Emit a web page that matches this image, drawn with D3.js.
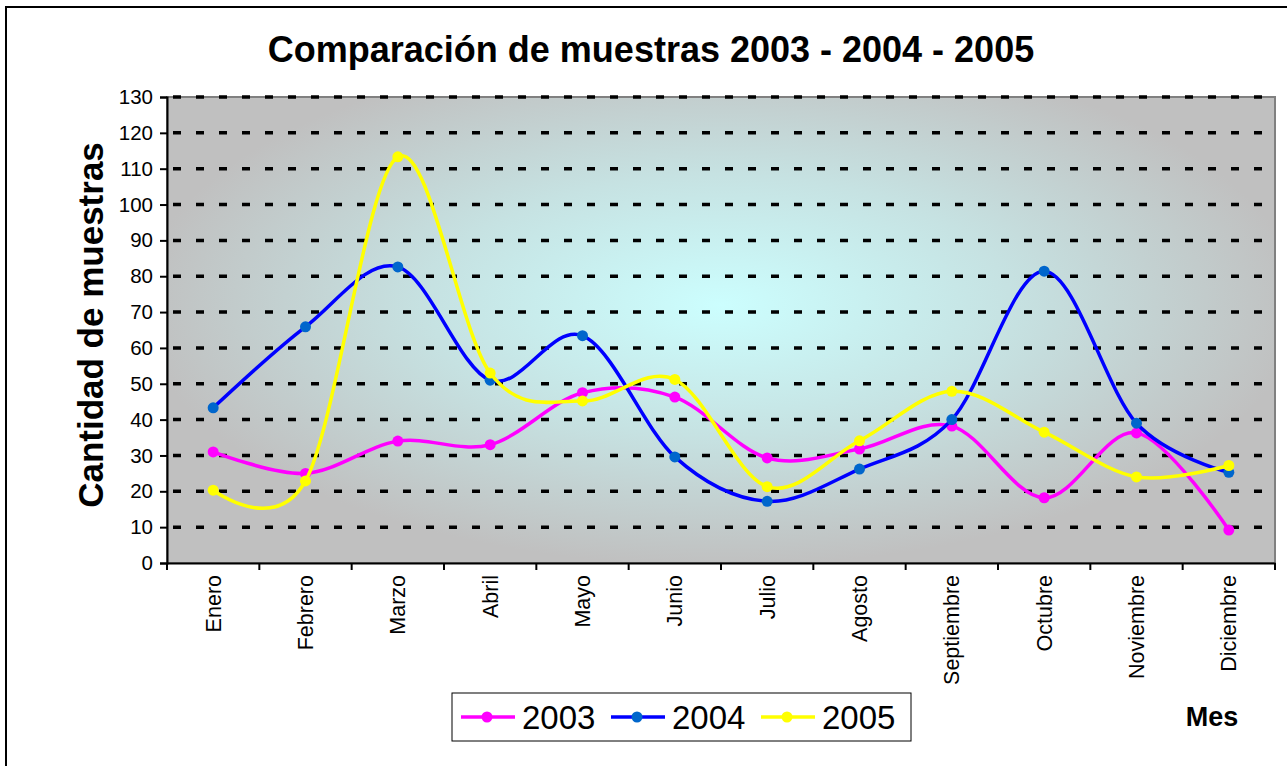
<!DOCTYPE html>
<html>
<head>
<meta charset="utf-8">
<script src="https://cdn.jsdelivr.net/npm/d3@7"></script>
<style>
  body { margin: 0; background: #fff; }
  text { font-family: Arial, "Liberation Sans", sans-serif; }
</style>
</head>
<body>
<div id="chart"></div>
<script>
const months = ["Enero", "Febrero", "Marzo", "Abril", "Mayo", "Junio", "Julio", "Agosto", "Septiembre", "Octubre", "Noviembre", "Diciembre"]
const v2003 = [31, 25, 34, 33, 47.5, 46.3, 29.3, 31.8, 38.2, 18.2, 36.3, 9.2]
const v2004 = [43.3, 65.9, 82.6, 51, 63.4, 29.6, 17.2, 26.2, 40, 81.4, 39, 25.3]
const v2005 = [20.3, 22.9, 113.3, 53, 45.2, 51.2, 21.3, 34.1, 47.9, 36.5, 24, 27.2]
const yTicks = d3.range(0, 131, 10)
const seriesNames = ["2003", "2004", "2005"]

const series = [
  { name: seriesNames[0], values: v2003, line: "#ff00ff", dot: "#ff00ff" },
  { name: seriesNames[1], values: v2004, line: "#0000ff", dot: "#0066cc" },
  { name: seriesNames[2], values: v2005, line: "#ffff00", dot: "#ffff00" }
]

const W = 1287, H = 766
const plot = { left: 167, top: 97, right: 1275, bottom: 563 }
const FONT = "Arial, 'Liberation Sans', sans-serif"

const svg = d3.select("#chart").append("svg")
  .attr("width", W).attr("height", H)

// outer chart border
svg.append("rect")
  .attr("x", 6).attr("y", 7).attr("width", W + 10).attr("height", H + 10)
  .attr("fill", "white").attr("stroke", "black").attr("stroke-width", 2)

const defs = svg.append("defs")
const grad = defs.append("radialGradient")
  .attr("id", "bg").attr("gradientUnits", "userSpaceOnUse")
  .attr("cx", 720).attr("cy", 305).attr("r", 580)
  .attr("gradientTransform", "translate(720,305) scale(1,0.45) translate(-720,-305)")
grad.append("stop").attr("offset", "0%").attr("stop-color", "#ccfefe")
grad.append("stop").attr("offset", "50%").attr("stop-color", "#c6e2e2")
grad.append("stop").attr("offset", "100%").attr("stop-color", "#c0c0c0")

const x = d3.scaleBand().domain(months).range([plot.left, plot.right])
const y = d3.scaleLinear().domain([0, 130]).range([plot.bottom, plot.top])

svg.append("rect")
  .attr("x", plot.left).attr("y", plot.top)
  .attr("width", plot.right - plot.left).attr("height", plot.bottom - plot.top)
  .attr("fill", "url(#bg)").attr("stroke", "#808080").attr("stroke-width", 2)

// dashed gridlines
svg.append("g").selectAll("line")
  .data(yTicks.filter(d => d > 0))
  .join("line")
  .attr("x1", plot.left + 2).attr("x2", plot.right)
  .attr("y1", d => y(d)).attr("y2", d => y(d))
  .attr("stroke", "black").attr("stroke-width", 3.5)
  .attr("stroke-dasharray", "8,15")
  .attr("stroke-dashoffset", -4)

// y axis
const yAxis = svg.append("g")
  .attr("transform", `translate(${plot.left},0)`)
  .call(d3.axisLeft(y).tickValues(yTicks).tickSize(7).tickPadding(7))
yAxis.select(".domain").attr("stroke", "black").attr("stroke-width", 2)
yAxis.selectAll(".tick line").attr("stroke", "black").attr("stroke-width", 2)
yAxis.selectAll("text").attr("font-size", 20.5).attr("fill", "black")
  .style("font-family", FONT)

// x axis
const xAxis = svg.append("g")
  .attr("transform", `translate(0,${plot.bottom})`)
  .call(d3.axisBottom(x).tickSize(0).tickPadding(0))
xAxis.select(".domain").attr("stroke", "black").attr("stroke-width", 2)
xAxis.selectAll(".tick text")
  .attr("transform", "rotate(-90)")
  .attr("text-anchor", "end")
  .attr("x", -12).attr("y", 0).attr("dy", "0.35em")
  .attr("font-size", 21.5).attr("fill", "black")
  .style("font-family", FONT)

// band separator ticks
svg.append("g").selectAll("line")
  .data(d3.range(months.length + 1))
  .join("line")
  .attr("x1", i => plot.left + i * x.step()).attr("x2", i => plot.left + i * x.step())
  .attr("y1", plot.bottom).attr("y2", plot.bottom + 7)
  .attr("stroke", "black").attr("stroke-width", 2)

const line = d3.line()
  .x((d, i) => x(months[i]) + x.bandwidth() / 2)
  .y(d => y(d))
  .curve(d3.curveCardinal.tension(0))

const sg = svg.append("g").selectAll("g").data(series).join("g")
sg.append("path")
  .attr("d", d => line(d.values))
  .attr("fill", "none").attr("stroke", d => d.line).attr("stroke-width", 3.5)
sg.selectAll("circle").data(d => d.values.map(v => ({ v, c: d.dot })))
  .join("circle")
  .attr("cx", (d, i) => x(months[i]) + x.bandwidth() / 2)
  .attr("cy", d => y(d.v))
  .attr("r", 5.5).attr("fill", d => d.c)

// title
svg.append("text")
  .attr("x", 651).attr("y", 62).attr("text-anchor", "middle")
  .attr("font-size", 36).attr("font-weight", "bold")
  .text("Comparación de muestras 2003 - 2004 - 2005")

// y axis title
svg.append("text")
  .attr("transform", "translate(103,325) rotate(-90)")
  .attr("text-anchor", "middle")
  .attr("font-size", 35).attr("font-weight", "bold")
  .text("Cantidad de muestras")

// x axis title
svg.append("text")
  .attr("x", 1212).attr("y", 726).attr("text-anchor", "middle")
  .attr("font-size", 27).attr("font-weight", "bold")
  .text("Mes")

// legend
const lg = svg.append("g")
lg.append("rect")
  .attr("x", 452).attr("y", 693).attr("width", 459).attr("height", 48)
  .attr("fill", "white").attr("stroke", "black").attr("stroke-width", 1)
const items = lg.selectAll("g").data(series).join("g")
  .attr("transform", (d, i) => `translate(${461 + i * 150},717)`)
items.append("line")
  .attr("x1", 0).attr("x2", 54).attr("y1", 0).attr("y2", 0)
  .attr("stroke", d => d.line).attr("stroke-width", 3.5)
items.append("circle").attr("cx", 26).attr("cy", 0).attr("r", 5.5).attr("fill", d => d.dot)
items.append("text")
  .attr("x", 61).attr("y", 0).attr("dy", "0.36em")
  .attr("font-size", 33)
  .text(d => d.name)
</script>
</body>
</html>
